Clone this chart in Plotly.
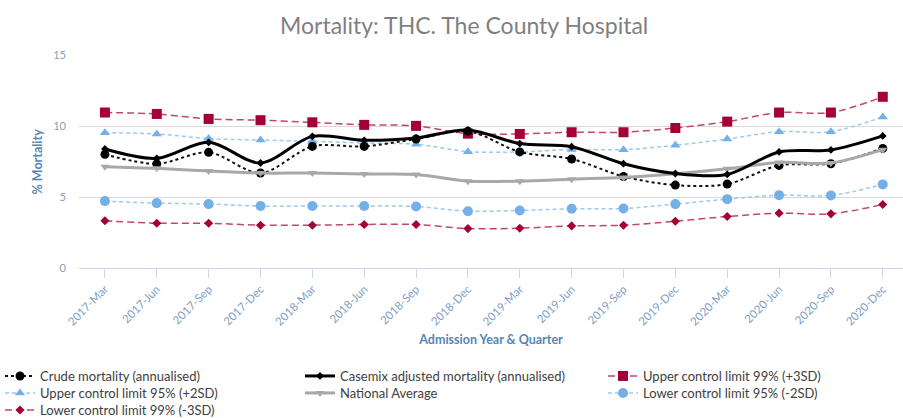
import plotly.graph_objects as go

quarters = ["2017-Mar", "2017-Jun", "2017-Sep", "2017-Dec",
            "2018-Mar", "2018-Jun", "2018-Sep", "2018-Dec",
            "2019-Mar", "2019-Jun", "2019-Sep", "2019-Dec",
            "2020-Mar", "2020-Jun", "2020-Sep", "2020-Dec"]

crude = [8.02, 7.35, 8.16, 6.70, 8.58, 8.58, 9.10, 9.65,
         8.19, 7.69, 6.46, 5.85, 5.92, 7.24, 7.36, 8.44]
casemix = [8.40, 7.74, 8.87, 7.41, 9.29, 9.01, 9.18, 9.74,
           8.78, 8.56, 7.36, 6.67, 6.60, 8.19, 8.33, 9.32]
upper99 = [10.97, 10.87, 10.52, 10.43, 10.28, 10.10, 10.03, 9.48,
           9.46, 9.58, 9.58, 9.88, 10.33, 10.97, 10.97, 12.08]
upper95 = [9.55, 9.46, 9.13, 9.03, 8.94, 8.82, 8.73, 8.21,
           8.19, 8.37, 8.35, 8.66, 9.10, 9.62, 9.62, 10.66]
national = [7.15, 7.03, 6.84, 6.70, 6.70, 6.63, 6.60, 6.13,
            6.13, 6.27, 6.39, 6.65, 7.00, 7.45, 7.41, 8.35]
lower95 = [4.72, 4.58, 4.51, 4.37, 4.37, 4.37, 4.34, 4.01,
           4.06, 4.18, 4.20, 4.51, 4.86, 5.14, 5.12, 5.90]
lower99 = [3.33, 3.16, 3.16, 3.02, 3.02, 3.07, 3.07, 2.78,
           2.81, 2.97, 3.02, 3.30, 3.63, 3.87, 3.82, 4.48]

names = {
    "crude": "Crude mortality (annualised)",
    "casemix": "Casemix adjusted mortality (annualised)",
    "upper99": "Upper control limit 99% (+3SD)",
    "upper95": "Upper control limit 95% (+2SD)",
    "national": "National Average",
    "lower95": "Lower control limit 95% (-2SD)",
    "lower99": "Lower control limit 99% (-3SD)",
}
y_title = "% Mortality"
x_title = "Admission Year & Quarter"
chart_title = "Mortality: THC. The County Hospital"

RED = "#a50034"
RED_LINE = "rgba(180,40,80,0.85)"
BLUE = "#74b0e8"
BLUE_LINE = "#9ec8f0"
GREY = "#a8a8a8"
FONT = "Lato"

# legend slot for each series: (legend id, column text-left px, row)
slots = {
    "crude": ("legend", 39, 0),
    "upper95": ("legend2", 39, 1),
    "lower99": ("legend3", 39, 2),
    "casemix": ("legend4", 340, 0),
    "national": ("legend5", 340, 1),
    "upper99": ("legend6", 643, 0),
    "lower95": ("legend7", 643, 1),
}
row_y = [376, 393, 410]

fig = go.Figure()

def add(key, y, line, marker):
    fig.add_trace(go.Scatter(
        x=quarters, y=y, name=names[key], mode="lines+markers",
        line=dict(shape="spline", smoothing=0.9, **line),
        marker=marker, legend=slots[key][0], showlegend=True))

add("upper99", upper99, dict(color=RED_LINE, width=1.5, dash="7px,4px"),
    dict(symbol="square", size=10, color=RED))
add("upper95", upper95, dict(color=BLUE_LINE, width=1.5, dash="4px,3px"),
    dict(symbol="triangle-up", size=9, color=BLUE))
add("lower95", lower95, dict(color=BLUE_LINE, width=1.5, dash="4px,3px"),
    dict(symbol="circle", size=10, color=BLUE))
add("lower99", lower99, dict(color=RED_LINE, width=1.5, dash="7px,4px"),
    dict(symbol="diamond", size=7, color=RED))
add("crude", crude, dict(color="#111111", width=2, dash="dot"),
    dict(symbol="circle", size=9, color="#000000"))
add("national", national, dict(color=GREY, width=3),
    dict(symbol="triangle-down", size=8, color=GREY))
add("casemix", casemix, dict(color="#000000", width=3),
    dict(symbol="diamond", size=6, color="#000000"))

legends = {}
for key, (lid, tx, row) in slots.items():
    legends[lid] = dict(
        visible=True,
        orientation="v", xref="container", yref="container",
        x=max(tx - 40, 0) / 903, xanchor="left",
        y=1 - row_y[row] / 418, yanchor="middle",
        font=dict(family=FONT, size=13, color="#404040"),
        bgcolor="rgba(0,0,0,0)", itemwidth=30)

fig.update_layout(
    width=903, height=418,
    showlegend=True,
    margin=dict(l=79, r=0, t=55, b=150, autoexpand=False),
    paper_bgcolor="white", plot_bgcolor="white",
    font=dict(family=FONT),
    title=dict(text=chart_title,
               font=dict(family=FONT, size=23, color="#7f7f7f"),
               x=0.514, xref="container", xanchor="center",
               y=1 - 26 / 418, yref="container", yanchor="middle"),
    xaxis=dict(
        type="category", range=[-0.5, 15.39],
        showgrid=False, showline=True, linecolor="#ccd6eb", linewidth=1,
        ticks="outside", ticklen=9, tickcolor="#ccd6eb", tickwidth=1,
        tickangle=-45, tickfont=dict(family=FONT, size=11.5, color="#7fa0c4"),
        title=dict(text="<b>" + x_title + "</b>", standoff=8,
                   font=dict(family=FONT, size=12.5, color="#5585b5")),
        zeroline=False),
    yaxis=dict(
        range=[0, 15.03], tickvals=[0, 5, 10, 15],
        showgrid=True, gridcolor="#d9d9d9", gridwidth=1,
        zeroline=False, showline=False,
        ticklabelstandoff=12,
        tickfont=dict(family=FONT, size=11, color="#7fa0c4")),
    annotations=[dict(
        text="<b>" + y_title + "</b>", textangle=-90,
        xref="paper", yref="paper", x=(37 - 79) / 824, y=0.5,
        xanchor="center", yanchor="middle", showarrow=False,
        font=dict(family=FONT, size=12.5, color="#5585b5"))],
    **legends,
)

fig.write_html("out.html", config={"displayModeBar": False},
               post_script="document.body.style.margin='0';")
